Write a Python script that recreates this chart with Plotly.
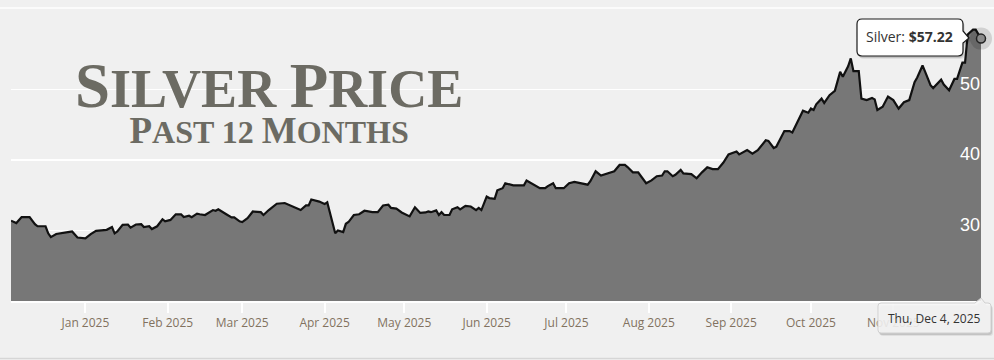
import plotly.graph_objects as go

# ---------------- data ----------------
dates = [
    "2024-12-04", "2024-12-06", "2024-12-08", "2024-12-11", "2024-12-13", "2024-12-14", "2024-12-17",
    "2024-12-18", "2024-12-19", "2024-12-21", "2024-12-26", "2024-12-27", "2024-12-29",
    "2025-01-01", "2025-01-03", "2025-01-05", "2025-01-09", "2025-01-11", "2025-01-12", "2025-01-13",
    "2025-01-15", "2025-01-17", "2025-01-18", "2025-01-20", "2025-01-22", "2025-01-23", "2025-01-25",
    "2025-01-26", "2025-01-28", "2025-01-30", "2025-01-31",
    "2025-02-02", "2025-02-04", "2025-02-06", "2025-02-07", "2025-02-09", "2025-02-10", "2025-02-12",
    "2025-02-13", "2025-02-15", "2025-02-18", "2025-02-19", "2025-02-20", "2025-02-22", "2025-02-23",
    "2025-02-25", "2025-02-26", "2025-02-28",
    "2025-03-01", "2025-03-03", "2025-03-05", "2025-03-08", "2025-03-09", "2025-03-11", "2025-03-12",
    "2025-03-14", "2025-03-17", "2025-03-18", "2025-03-21", "2025-03-23", "2025-03-25", "2025-03-26",
    "2025-03-27", "2025-03-29", "2025-03-30",
    "2025-04-01", "2025-04-02", "2025-04-05", "2025-04-06", "2025-04-08", "2025-04-09", "2025-04-10",
    "2025-04-12", "2025-04-14", "2025-04-16", "2025-04-19", "2025-04-21", "2025-04-23", "2025-04-25",
    "2025-04-26", "2025-04-28", "2025-04-30",
    "2025-05-03", "2025-05-05", "2025-05-07", "2025-05-09", "2025-05-10", "2025-05-11", "2025-05-13",
    "2025-05-14", "2025-05-15", "2025-05-16", "2025-05-18", "2025-05-19", "2025-05-21", "2025-05-22",
    "2025-05-24", "2025-05-26", "2025-05-28", "2025-05-29", "2025-05-30",
    "2025-06-01", "2025-06-02", "2025-06-04", "2025-06-05", "2025-06-07", "2025-06-08", "2025-06-11",
    "2025-06-15", "2025-06-16", "2025-06-19", "2025-06-21", "2025-06-23", "2025-06-24", "2025-06-26",
    "2025-06-27", "2025-06-30",
    "2025-07-02", "2025-07-04", "2025-07-07", "2025-07-09", "2025-07-10", "2025-07-12", "2025-07-14",
    "2025-07-18", "2025-07-19", "2025-07-21", "2025-07-23", "2025-07-24", "2025-07-26", "2025-07-28",
    "2025-07-30", "2025-07-31",
    "2025-08-02", "2025-08-04", "2025-08-06", "2025-08-07", "2025-08-08", "2025-08-10", "2025-08-11",
    "2025-08-13", "2025-08-14", "2025-08-17", "2025-08-19", "2025-08-20", "2025-08-21", "2025-08-23",
    "2025-08-25", "2025-08-27", "2025-08-29", "2025-08-31",
    "2025-09-03", "2025-09-04", "2025-09-07", "2025-09-09", "2025-09-11", "2025-09-14", "2025-09-15",
    "2025-09-17", "2025-09-18", "2025-09-21", "2025-09-23", "2025-09-24", "2025-09-26", "2025-09-28",
    "2025-09-30",
    "2025-10-01", "2025-10-02", "2025-10-03", "2025-10-05", "2025-10-06", "2025-10-08", "2025-10-10",
    "2025-10-12", "2025-10-13", "2025-10-15", "2025-10-16", "2025-10-17", "2025-10-19", "2025-10-20",
    "2025-10-22", "2025-10-24", "2025-10-25", "2025-10-26", "2025-10-28", "2025-10-30",
    "2025-11-01", "2025-11-03", "2025-11-05", "2025-11-07", "2025-11-09", "2025-11-10", "2025-11-12",
    "2025-11-13", "2025-11-15", "2025-11-16", "2025-11-19", "2025-11-20", "2025-11-22", "2025-11-24",
    "2025-11-25", "2025-11-27", "2025-11-28", "2025-11-29",
    "2025-12-01", "2025-12-02", "2025-12-04",
]

prices = [
    31.4, 31.05, 31.9, 31.9, 30.9, 30.6, 30.6, 29.6, 29.06, 29.5, 29.8, 29.86, 29.0,
    28.9, 29.5, 29.96, 30.1, 30.5, 29.6, 29.86, 30.8, 30.85, 30.4, 30.85, 30.9, 30.5, 30.6, 30.2, 30.6,
    31.6, 31.3,
    31.5, 32.3, 32.3, 31.9, 32.1, 31.9, 32.4, 32.3, 32.2, 32.9, 32.8, 33.0, 32.6, 32.3, 31.85, 31.85, 31.3,
    31.2, 31.76, 32.7, 32.6, 32.2, 32.9, 33.2, 33.8, 33.9, 33.75, 33.3, 32.9, 33.55, 33.55, 34.4, 34.2, 34.1,
    33.75, 34.0, 29.6, 30.0, 29.77, 30.95, 31.2, 32.2, 32.3, 32.8, 32.6, 32.6, 33.55, 33.65, 33.2, 33.1, 32.56,
    32.0, 33.3, 32.5, 32.56, 32.7, 32.6, 32.85, 32.2, 32.6, 32.2, 32.2, 33.0, 33.3, 33.0, 33.5, 33.4, 32.9,
    33.2, 32.9,
    34.8, 34.6, 34.5, 35.7, 36.0, 36.7, 36.4, 36.4, 37.1, 36.5, 36.0, 36.0, 36.3, 36.7, 36.0, 36.0,
    36.7, 36.9, 36.7, 36.5, 37.0, 38.4, 37.8, 38.25, 38.4, 39.3, 39.3, 39.0, 38.25, 38.25, 37.2, 36.7,
    37.1, 37.7, 37.8, 38.4, 38.4, 37.7, 37.9, 38.6, 38.1, 38.0, 37.4, 37.9, 38.25, 38.96, 38.7, 38.7, 39.6, 40.8,
    41.2, 40.8, 41.4, 40.9, 41.4, 42.8, 42.7, 41.7, 41.9, 44.1, 44.1, 43.9, 45.5, 47.0, 46.7,
    47.3, 47.1, 47.9, 48.7, 48.1, 49.2, 49.8, 52.5, 51.8, 53.3, 54.4, 52.6, 52.6, 48.7, 48.5, 48.8, 48.6,
    47.1, 47.55, 49.0,
    48.5, 47.3, 48.2, 48.5, 51.05, 51.7, 53.4, 52.5, 50.6, 50.2, 51.4, 50.7, 49.9, 51.5, 51.5, 53.8, 53.8, 57.8,
    58.5, 58.5, 57.22,
]

month_ticks = ["2025-01-01", "2025-02-01", "2025-03-01", "2025-04-01", "2025-05-01", "2025-06-01",
               "2025-07-01", "2025-08-01", "2025-09-01", "2025-10-01", "2025-11-01", "2025-12-01"]
month_labels = ["Jan 2025", "Feb 2025", "Mar 2025", "Apr 2025", "May 2025", "Jun 2025",
                "Jul 2025", "Aug 2025", "Sep 2025", "Oct 2025", "Nov 2025", "Dec\u2026"]
price_ticks = [30, 40, 50, 60]
price_labels = ["30", "40", "50", ""]
y_range = [20, 60]

series_name = "Silver"
tooltip_date = "Thu, Dec 4, 2025"
title_line1 = ("S", "ILVER ", "P", "RICE")
title_line2 = ("P", "AST 12 ", "M", "ONTHS")

# ---------------- layout helpers (pixel -> paper) ----------------
FIG_W, FIG_H = 994, 360
L, T, R, B = 11, 19, 13, 59
PW, PH = FIG_W - L - R, FIG_H - T - B


def px(X):
    return (X - L) / PW


def py(Y):
    return (T + PH - Y) / PH


def path(points):
    out = []
    for cmd, *c in points:
        vals = []
        for i in range(0, len(c), 2):
            vals.append(f"{px(c[i]):.5f},{py(c[i+1]):.5f}")
        out.append(cmd + " " + " ".join(vals))
    return " ".join(out) + " Z"


def box_right_arrow(x0, y0, x1, y1, r, ay, tipx, tipy, dx=0, dy=0):
    x0, x1, ay, tipx = x0 + dx, x1 + dx, ay + dy, tipx + dx
    y0, y1, tipy = y0 + dy, y1 + dy, tipy + dy
    return path([
        ("M", x0 + r, y0), ("L", x1 - r, y0), ("Q", x1, y0, x1, y0 + r),
        ("L", x1, ay - 6), ("L", tipx, tipy), ("L", x1, ay + 6),
        ("L", x1, y1 - r), ("Q", x1, y1, x1 - r, y1), ("L", x0 + r, y1),
        ("Q", x0, y1, x0, y1 - r), ("L", x0, y0 + r), ("Q", x0, y0, x0 + r, y0),
    ])


def box_top_arrow(x0, y0, x1, y1, r, ax, tipy, dx=0, dy=0):
    x0, x1, ax = x0 + dx, x1 + dx, ax + dx
    y0, y1, tipy = y0 + dy, y1 + dy, tipy + dy
    return path([
        ("M", x0 + r, y0), ("L", ax - 6, y0), ("L", ax, tipy), ("L", ax + 4, y0),
        ("L", x1 - r, y0), ("Q", x1, y0, x1, y0 + r),
        ("L", x1, y1 - r), ("Q", x1, y1, x1 - r, y1), ("L", x0 + r, y1),
        ("Q", x0, y1, x0, y1 - r), ("L", x0, y0 + r), ("Q", x0, y0, x0 + r, y0),
    ])


fig = go.Figure()

fig.add_trace(go.Scatter(
    x=dates, y=prices, mode="lines", name=series_name,
    line=dict(color="#111111", width=2.2),
    fill="tozeroy", fillcolor="#777777",
    hoverinfo="skip",
))

# highlighted last point (halo + marker)
fig.add_trace(go.Scatter(
    x=[dates[-1]], y=[prices[-1]], mode="markers", cliponaxis=False,
    marker=dict(size=22, color="rgba(0,0,0,0.13)", line=dict(width=0)),
    hoverinfo="skip", showlegend=False,
))
fig.add_trace(go.Scatter(
    x=[dates[-1]], y=[prices[-1]], mode="markers", cliponaxis=False,
    marker=dict(size=9, color="#8a8a8a", line=dict(color="#222222", width=1.5)),
    hoverinfo="skip", showlegend=False,
))

shapes = []
shapes.append(dict(type="line", xref="paper", yref="paper", x0=px(0), x1=px(FIG_W), y0=py(8), y1=py(8),
                   line=dict(color="#ffffff", width=1.5), layer="below"))
shapes.append(dict(type="line", xref="paper", yref="paper", x0=px(0), x1=px(FIG_W), y0=py(358.5), y1=py(358.5),
                   line=dict(color="#d6d6d6", width=1.5), layer="below"))

# tooltip 1 (value)
for dx, dy, a in [(2, 3, 0.07), (1, 2, 0.12)]:
    shapes.append(dict(type="path", xref="paper", yref="paper",
                       path=box_right_arrow(857, 19, 963, 56, 5, 37, 969, 38, dx, dy),
                       fillcolor=f"rgba(0,0,0,{a})", line=dict(width=0), layer="above"))
shapes.append(dict(type="path", xref="paper", yref="paper",
                   path=box_right_arrow(857, 19, 963, 56, 5, 37, 969, 38),
                   fillcolor="#ffffff", line=dict(color="#1a1a1a", width=1.2), layer="above"))

# tooltip 2 (date)
for dx, dy, a in [(2, 3, 0.07), (1, 2, 0.12)]:
    shapes.append(dict(type="path", xref="paper", yref="paper",
                       path=box_top_arrow(878, 303, 991, 333, 3, 981, 298, dx, dy),
                       fillcolor=f"rgba(0,0,0,{a})", line=dict(width=0), layer="above"))
shapes.append(dict(type="path", xref="paper", yref="paper",
                   path=box_top_arrow(878, 303, 991, 333, 3, 981, 298),
                   fillcolor="rgba(246,246,246,0.88)", line=dict(color="#d0d0d0", width=1), layer="above"))

big, small = "font-size:63px", "font-size:54px"
sbig, ssmall = "font-size:37px", "font-size:32px"
title_text = (
    f"<span style='{big}'>{title_line1[0]}</span><span style='{small}'>{title_line1[1]}</span>"
    f"<span style='{big}'>{title_line1[2]}</span><span style='{small}'>{title_line1[3]}</span>"
    "<br>"
    f"<span style='{sbig}'>{title_line2[0]}</span><span style='{ssmall}'>{title_line2[1]}</span>"
    f"<span style='{sbig}'>{title_line2[2]}</span><span style='{ssmall}'>{title_line2[3]}</span>"
)

annotations = [
    dict(xref="paper", yref="paper", x=px(269), y=py(101), xanchor="center", yanchor="middle",
         text=title_text, align="center", showarrow=False,
         font=dict(family="Liberation Serif", size=28, color="#6c6b63", weight="bold")),
    dict(xref="paper", yref="paper", x=px(909), y=py(37), xanchor="center", yanchor="middle",
         text=f"{series_name}: <b>${prices[-1]:.2f}</b>", showarrow=False,
         font=dict(family="Open Sans", size=14, color="#333333")),
    dict(xref="paper", yref="paper", x=px(934), y=py(318), xanchor="center", yanchor="middle",
         text=tooltip_date, showarrow=False,
         font=dict(family="Open Sans", size=12, color="#333333")),
]

fig.update_layout(
    width=FIG_W, height=FIG_H,
    margin=dict(l=L, r=R, t=T, b=B, pad=0, autoexpand=False),
    paper_bgcolor="#f0f0f0", plot_bgcolor="#f0f0f0",
    showlegend=False, hovermode=False,
    shapes=shapes, annotations=annotations,
    xaxis=dict(
        range=[dates[0], dates[-1]], tickvals=month_ticks, ticktext=month_labels,
        showgrid=False, zeroline=False, automargin=False,
        showline=True, linecolor="#ffffff", linewidth=2,
        ticks="outside", ticklen=10, tickwidth=2, tickcolor="#ffffff",
        tickfont=dict(family="Open Sans", size=12, color="#82725f"),
    ),
    yaxis=dict(
        range=y_range, tickvals=price_ticks, ticktext=price_labels, automargin=False,
        side="right", ticklabelposition="inside", ticklabelshift=-6, ticklabelstandoff=-2,
        showgrid=True, gridcolor="#ffffff", gridwidth=1.5, zeroline=False,
        showline=False, ticks="",
        tickfont=dict(family="Liberation Sans Narrow, Arial Narrow, Liberation Sans", size=18, color="#ffffff"),
    ),
)

fig.write_html(
    "out.html",
    config={"displayModeBar": False, "staticPlot": True},
    post_script="document.body.style.margin='0px';document.body.style.background='#f0f0f0';",
)
